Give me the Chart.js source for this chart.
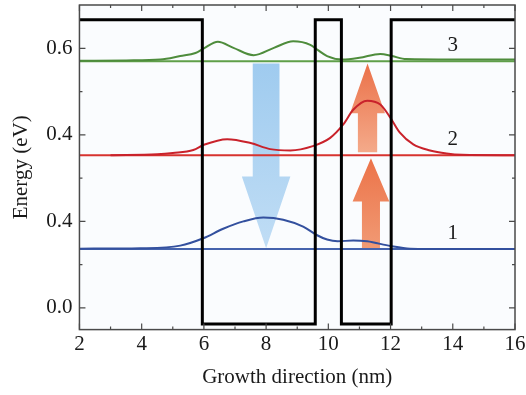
<!DOCTYPE html>
<html>
<head>
<meta charset="utf-8">
<script src="https://cdn.jsdelivr.net/npm/chart.js@4/dist/chart.umd.min.js"></script>
<style>
  html, body { margin: 0; padding: 0; background: #fff; }
</style>
</head>
<body>
<canvas id="chart" width="526" height="395"></canvas>
<script>
const xTicks = [2, 4, 6, 8, 10, 12, 14, 16];
const yTickValues = [0.0, 0.2, 0.4, 0.6];
const yTickLabels = ["0.0", "0.4", "0.4", "0.6"];

// conduction band edge across the structure (nm, eV)
const bandX = [2, 5.95, 5.95, 9.58, 9.58, 10.42, 10.42, 12.02, 12.02, 16];
const bandY = [0.666, 0.666, -0.037, -0.037, 0.666, 0.666, -0.037, -0.037, 0.666, 0.666];

// subband energies 1, 2, 3
const levelNames = ["1", "2", "3"];
const levelE = [0.136, 0.353, 0.570];

// |psi|^2 of each subband, drawn on its own energy
const psi1X = [2, 3.96, 5.24, 5.98, 6.62, 7.27, 7.91, 8.55, 9.19, 9.64, 9.96, 10.3, 10.8, 11.25, 12.0, 12.63, 14, 16];
const psi1Y = [0.137, 0.138, 0.144, 0.161, 0.183, 0.200, 0.209, 0.204, 0.188, 0.168, 0.158, 0.154, 0.156, 0.154, 0.143, 0.137, 0.136, 0.136];

const psi2X = [3.0, 4.5, 5.0, 5.66, 6.0, 6.75, 7.5, 8.13, 8.78, 9.5, 10.06, 10.48, 10.8, 11.25, 11.67, 12.0, 12.3, 12.73, 13.27, 13.8, 14.3, 16];
const psi2Y = [0.353, 0.355, 0.358, 0.365, 0.377, 0.390, 0.381, 0.367, 0.364, 0.374, 0.393, 0.424, 0.458, 0.479, 0.470, 0.439, 0.405, 0.378, 0.364, 0.357, 0.354, 0.353];

const psi3X = [2, 3.5, 4.6, 5.24, 5.73, 6.0, 6.45, 6.95, 7.6, 8.25, 8.87, 9.42, 9.64, 9.96, 10.45, 11.0, 11.67, 12.05, 12.5, 14, 16];
const psi3Y = [0.571, 0.572, 0.574, 0.582, 0.589, 0.600, 0.615, 0.601, 0.584, 0.601, 0.616, 0.608, 0.597, 0.582, 0.574, 0.578, 0.587, 0.582, 0.575, 0.574, 0.574];

// transitions: x position, start energy, end energy
const arrowX = [8.0, 11.26, 11.37];
const arrowFrom = [0.565, 0.360, 0.138];
const arrowTo = [0.138, 0.565, 0.346];

const FONT = { family: "'Liberation Serif', 'Times New Roman', serif", size: 21 };
const INK = "#1a1a1a";

function pts(xs, ys) {
  return xs.map((x, i) => ({ x: x, y: ys[i] }));
}

function levelLine(e) {
  return [{ x: 2, y: e }, { x: 16, y: e }];
}

// arrow shapes in axis units, one per transition
const arrowShape = [
  { shaft: 0.43, head: 0.78, headLen: 0.166, top: "#9fcbef", bottom: "#c0ddf5" },
  { shaft: 0.31, head: 0.56, headLen: 0.115, top: "#eb7149", bottom: "#f4aa8a" },
  { shaft: 0.29, head: 0.59, headLen: 0.100, top: "#ec7349", bottom: "#f19a74" }
];

const arrowsPlugin = {
  id: "arrows",
  beforeDatasetsDraw(chart) {
    const { ctx, scales: { x, y } } = chart;
    arrowX.forEach((ax, i) => {
      const s = arrowShape[i];
      const dir = arrowTo[i] > arrowFrom[i] ? 1 : -1;
      const baseE = arrowTo[i] - dir * s.headLen;
      const y0 = y.getPixelForValue(arrowFrom[i]);
      const y1 = y.getPixelForValue(arrowTo[i]);
      const yb = y.getPixelForValue(baseE);
      const g = ctx.createLinearGradient(0, Math.min(y0, y1), 0, Math.max(y0, y1));
      g.addColorStop(0, s.top);
      g.addColorStop(1, s.bottom);
      ctx.save();
      ctx.fillStyle = g;
      ctx.beginPath();
      ctx.moveTo(x.getPixelForValue(ax - s.shaft), y0);
      ctx.lineTo(x.getPixelForValue(ax + s.shaft), y0);
      ctx.lineTo(x.getPixelForValue(ax + s.shaft), yb);
      ctx.lineTo(x.getPixelForValue(ax + s.head), yb);
      ctx.lineTo(x.getPixelForValue(ax), y1);
      ctx.lineTo(x.getPixelForValue(ax - s.head), yb);
      ctx.lineTo(x.getPixelForValue(ax - s.shaft), yb);
      ctx.closePath();
      ctx.fill();
      ctx.restore();
    });
  }
};

// plot background, frame with inward ticks on all four sides, level numbers
const framePlugin = {
  id: "frame",
  beforeDraw(chart) {
    const { ctx, chartArea: a } = chart;
    ctx.save();
    ctx.fillStyle = "#fafcfe";
    ctx.fillRect(a.left, a.top, a.right - a.left, a.bottom - a.top);
    ctx.restore();
  },
  afterDraw(chart) {
    const { ctx, chartArea: a, scales: { x, y } } = chart;
    ctx.save();
    ctx.strokeStyle = "#4a4a4a";
    ctx.lineWidth = 1.5;
    ctx.strokeRect(a.left, a.top, a.right - a.left, a.bottom - a.top);
    ctx.lineWidth = 1.2;
    ctx.beginPath();
    for (let v = 2; v <= 16; v += 1) {
      const px = x.getPixelForValue(v);
      const len = v % 2 === 0 ? 6 : 3;
      ctx.moveTo(px, a.bottom); ctx.lineTo(px, a.bottom - len);
      ctx.moveTo(px, a.top); ctx.lineTo(px, a.top + len);
    }
    for (let k = 0; k <= 6; k++) {
      const v = k * 0.1;
      const py = y.getPixelForValue(v);
      const len = k % 2 === 0 ? 6 : 3;
      ctx.moveTo(a.left, py); ctx.lineTo(a.left + len, py);
      ctx.moveTo(a.right, py); ctx.lineTo(a.right - len, py);
    }
    ctx.stroke();

    ctx.fillStyle = INK;
    ctx.font = FONT.size + "px " + FONT.family;
    ctx.textAlign = "center";
    ctx.textBaseline = "middle";
    levelE.forEach((e, i) => {
      ctx.fillText(levelNames[i], x.getPixelForValue(14), y.getPixelForValue(e) - 16);
    });
    ctx.restore();
  }
};

const waveStyle = { pointRadius: 0, borderWidth: 2, cubicInterpolationMode: "monotone", fill: false };
const levelStyle = { pointRadius: 0, borderWidth: 2, fill: false };

new Chart(document.getElementById("chart"), {
  type: "line",
  data: {
    datasets: [
      { label: "band", data: pts(bandX, bandY), borderColor: "#000", borderWidth: 3, pointRadius: 0, tension: 0, borderJoinStyle: "miter" },
      { label: "psi3", data: pts(psi3X, psi3Y), borderColor: "#4e8c3c", ...waveStyle },
      { label: "psi2", data: pts(psi2X, psi2Y), borderColor: "#c9222b", ...waveStyle },
      { label: "psi1", data: pts(psi1X, psi1Y), borderColor: "#33509e", ...waveStyle },
      { label: "E3", data: levelLine(levelE[2]), borderColor: "#5f9f49", ...levelStyle },
      { label: "E2", data: levelLine(levelE[1]), borderColor: "#d7332f", ...levelStyle },
      { label: "E1", data: levelLine(levelE[0]), borderColor: "#4563ad", ...levelStyle }
    ]
  },
  options: {
    responsive: false,
    animation: false,
    devicePixelRatio: 1,
    layout: { padding: { left: 1, right: 11, top: 5, bottom: 2 } },
    plugins: { legend: { display: false }, tooltip: { enabled: false } },
    scales: {
      x: {
        type: "linear",
        min: 2,
        max: 16,
        afterBuildTicks: s => { s.ticks = xTicks.map(v => ({ value: v })); },
        afterFit: s => { s.paddingLeft = 0; s.paddingRight = 0; },
        grid: { display: false, drawTicks: false },
        border: { display: false },
        ticks: { font: FONT, color: INK, padding: 2, maxRotation: 0, autoSkip: false },
        title: { display: true, text: "Growth direction (nm)", font: FONT, color: INK, padding: { top: 6, bottom: 3 } }
      },
      y: {
        type: "linear",
        min: -0.05,
        max: 0.70,
        afterBuildTicks: s => { s.ticks = yTickValues.map(v => ({ value: v })); },
        afterFit: s => { s.paddingTop = 0; s.paddingBottom = 0; },
        grid: { display: false, drawTicks: false },
        border: { display: false },
        ticks: { font: FONT, color: INK, padding: 7, callback: (v, i) => yTickLabels[i] },
        title: { display: true, text: "Energy (eV)", font: FONT, color: INK, padding: { top: 8, bottom: 5 } }
      }
    }
  },
  plugins: [framePlugin, arrowsPlugin]
});
</script>
</body>
</html>
